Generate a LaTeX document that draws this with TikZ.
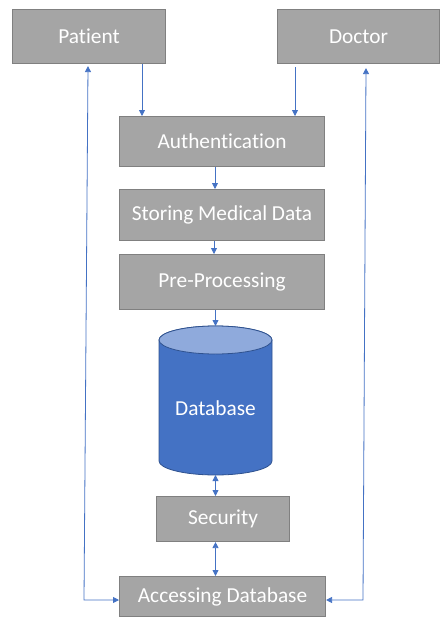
\documentclass[tikz,border=0pt]{standalone}
\usepackage{fontspec}
\setmainfont{Carlito}[Ligatures=NoCommon]
\usetikzlibrary{arrows.meta,calc}
\definecolor{boxgray}{HTML}{A5A5A5}
\definecolor{boxedge}{HTML}{808080}
\definecolor{linkblue}{HTML}{4472C4}
\definecolor{dbside}{HTML}{4472C4}
\definecolor{dbtop}{HTML}{8FAADC}
\definecolor{dbedge}{HTML}{2F528F}
\tikzset{
  stepbox/.style={draw=boxedge, fill=boxgray, line width=0.8pt, text=white,
    font=\fontsize{16}{19}\selectfont, inner sep=0pt, anchor=north west},
  link/.style={draw=linkblue, line width=0.6pt,
    -{Triangle[length=4.5pt,width=4.5pt]}},
  blink/.style={link, {Triangle[length=4.5pt,width=4.5pt]}-{Triangle[length=4.5pt,width=4.5pt]}},
}
\begin{document}
\begin{tikzpicture}[x=0.75pt,y=-0.75pt]
\useasboundingbox (0,0) rectangle (440,617);

% boxes (pixel grid, origin top left)
\node[stepbox, minimum width=153*0.75pt, minimum height=54*0.75pt] (patient) at (12,9) {Patient};
\node[stepbox, minimum width=162*0.75pt, minimum height=54*0.75pt] (doctor) at (277,9) {Doctor};
\node[stepbox, minimum width=205*0.75pt, minimum height=50*0.75pt] (auth) at (119,116) {Authentication};
\node[stepbox, minimum width=205*0.75pt, minimum height=51*0.75pt] (store) at (119,189) {Storing Medical Data};
\node[stepbox, minimum width=205*0.75pt, minimum height=55*0.75pt] (pre) at (119,254) {Pre-Processing};
\node[stepbox, minimum width=133*0.75pt, minimum height=45*0.75pt] (sec) at (156,496) {Security};
\node[stepbox, minimum width=206*0.75pt, minimum height=40*0.75pt] (acc) at (119,576) {Accessing Database};

% database cylinder (y grows downwards, so the lower arc runs through 90 degrees)
\fill[dbside, draw=dbedge, line width=0.6pt]
  (159,340) -- (159,461) arc[start angle=180, end angle=0, x radius=56.5, y radius=14]
  -- (272,340) arc[start angle=0, end angle=-180, x radius=56.5, y radius=14] -- cycle;
\filldraw[fill=dbtop, draw=dbedge, line width=0.6pt] (215.5,340) ellipse[x radius=56.5, y radius=14];
\coordinate (dbtopc) at (215.5,326);
\coordinate (dbbot) at (215.5,475);
\node[text=white, font=\fontsize{16}{19}\selectfont] (db) at (215.5,408) {Database};

% connectors
\draw[link] (patient.south -| 142,0) -- (auth.north -| 142,0);
\draw[link] ([yshift=-3*0.75pt]doctor.south -| 295,0) -- (auth.north -| 295,0);
\draw[link] (auth.south -| 215,0) -- (store.north -| 215,0);
\draw[link] (store.south -| 214,0) -- (pre.north -| 214,0);
\draw[link] (pre.south -| 215.5,0) -- (dbtopc);
\draw[blink] (dbbot) -- (sec.north -| 215.5,0);
\draw[blink] (sec.south -| 215.5,0) -- (acc.north -| 215.5,0);

\coordinate (lcorner) at (84,600);
\coordinate (rcorner) at (363,600);
\draw[blink] ([yshift=-2*0.75pt]patient.south -| 88,0) -- (lcorner) -- (acc.west |- lcorner);
\draw[blink] ([yshift=-4*0.75pt]doctor.south -| 366,0) -- (rcorner) -- (acc.east |- rcorner);
\end{tikzpicture}
\end{document}
